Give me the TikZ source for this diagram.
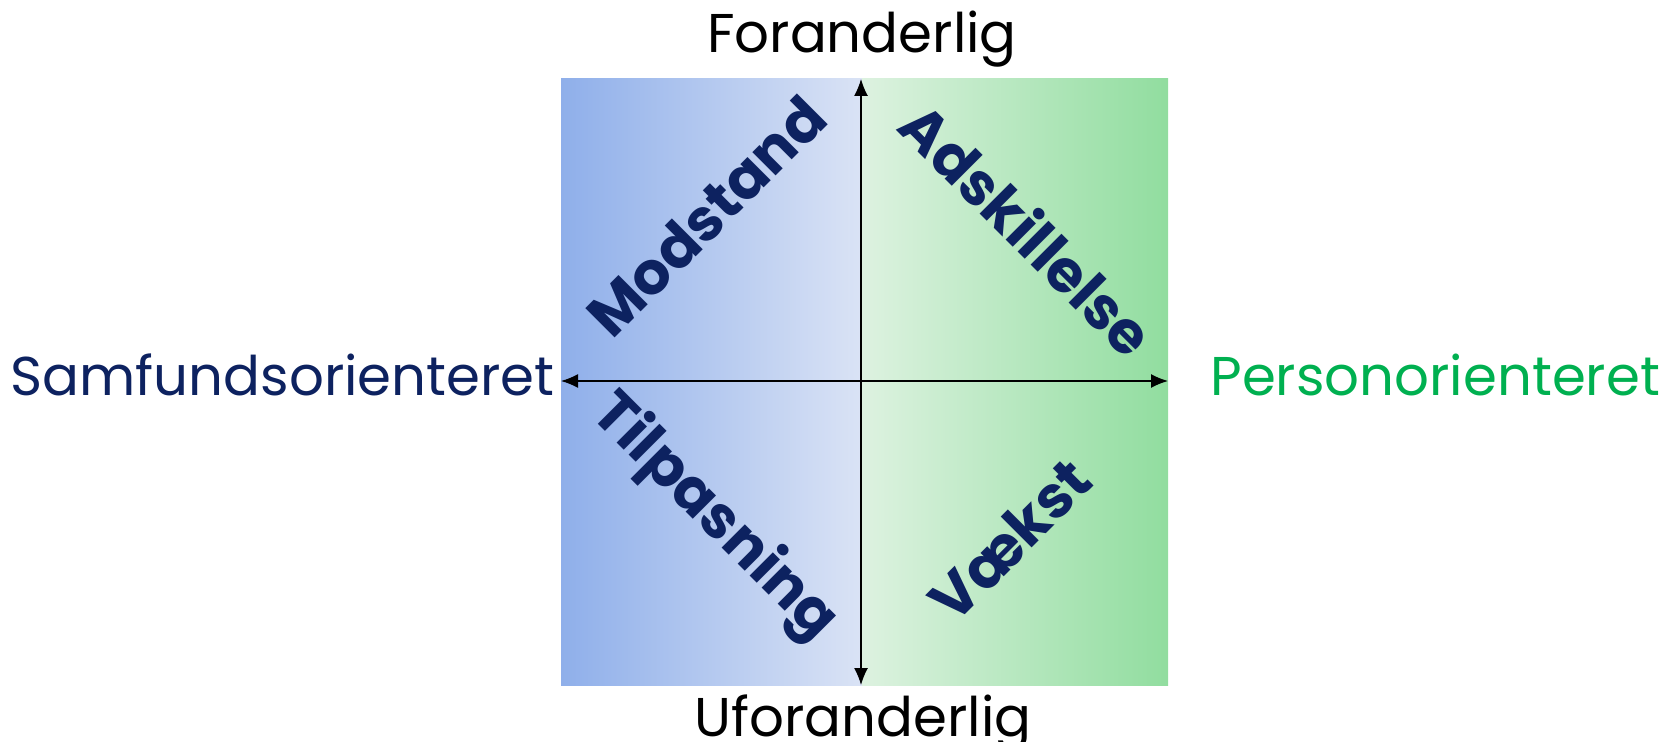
\documentclass[tikz,border=0pt]{standalone}
\usepackage{fontspec}
\setmainfont{Poppins}
\usetikzlibrary{arrows.meta,positioning}

\definecolor{navy}{RGB}{13,34,96}
\definecolor{persgreen}{RGB}{0,176,80}
\definecolor{blueedge}{RGB}{143,175,234}
\definecolor{bluemid}{RGB}{218,227,245}
\definecolor{greenmid}{RGB}{221,242,224}
\definecolor{greenedge}{RGB}{145,221,159}

\begin{document}
\begin{tikzpicture}[x=0.5pt,y=-0.5pt,
    axislbl/.style={inner sep=0pt,font=\fontsize{27.3}{28}\selectfont},
    quadlbl/.style={inner sep=0pt,text=navy,font=\fontsize{29.5}{30}\selectfont\bfseries},
    axis/.style={line width=0.7pt,{Latex[length=8.5pt,width=7pt]}-{Latex[length=8.5pt,width=7pt]}}]
  \useasboundingbox (0,0) rectangle (1668,742);

  % the two halves
  \fill[left color=blueedge,right color=bluemid] (561,79) rectangle (862,685);
  \fill[left color=greenmid,right color=greenedge] (862,79) rectangle (1168,685);

  % axes
  \coordinate (N) at (861,79);
  \coordinate (S) at (861,685);
  \coordinate (W) at (561,381);
  \coordinate (E) at (1168,381);
  \draw[axis] (S) -- (N);
  \draw[axis] (W) -- (E);

  % axis labels
  \node[axislbl,anchor=base] (foranderlig) at (862,53) {Foranderlig};
  \node[axislbl,anchor=base] (uforanderlig) at (863,736) {Uforanderlig};
  \node[axislbl,anchor=base east,text=navy] (samfund) at (555,396) {Samfundsorienteret};
  \node[axislbl,anchor=base west,text=persgreen] (person) at (1210,396) {Personorienteret};

  % quadrants
  \node[quadlbl,rotate=45] (modstand) at (706,216) {Modstand};
  \node[quadlbl,rotate=-45] (adskillelse) at (1028,229) {Adskillelse};
  \node[quadlbl,rotate=-45] (tilpasning) at (714,518) {Tilpasning};
  \node[quadlbl,rotate=45] (vaekst) at (1010,540) {Vækst};
\end{tikzpicture}
\end{document}
